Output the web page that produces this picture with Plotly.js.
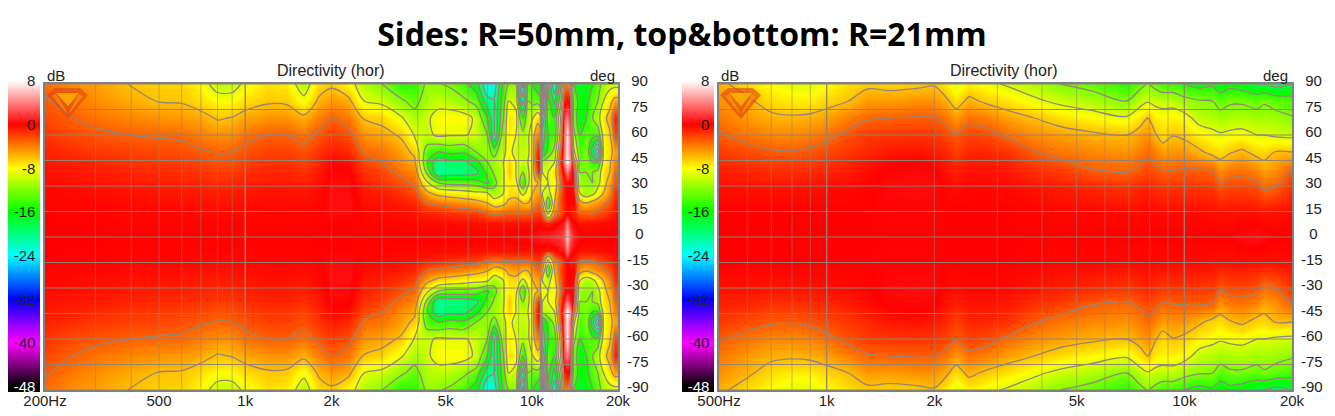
<!DOCTYPE html>
<html><head><meta charset="utf-8">
<script src="https://cdn.plot.ly/plotly-3.0.1.min.js"></script>
<style>html,body{margin:0;padding:0;background:#fff}#c{width:1335px;height:416px}</style>
</head><body><div id="c"></div>
<script>
const titleText = "Sides: R=50mm, top&bottom: R=21mm";
const scaleDb = [-49.7,-49.01,-49,-48,-44,-40,-32,-24,-16,-8,0,8,9.8];
const scaleColors = ["#ffffff","#ffffff","#000000","#000000","#800080","#ff00ff","#0000ff","#00ffff","#00ff00","#ffff00","#ff0000","#ffffff","#ffffff"];
const cbarTicks = [8,0,-8,-16,-24,-32,-40,-48];
const cbarText = ["8\u00a0","0\u00a0","-8\u00a0","-16\u00a0","-24\u00a0","-32\u00a0","-40\u00a0","<span style=\"color:#fff\">-48</span>\u00a0"];
const degTicks = [90,75,60,45,30,15,0,-15,-30,-45,-60,-75,-90];

const leftAngles = [0,8,14,20,26,32,38,44,50,60,70,80,90];
const leftFreqs = [200,250,300,400,500,600,700,800,900,1000,1200,1400,1600,1800,2000,2300,2600,3000,3500,3900,4300,4700,5200,5800,6400,7000,7400,7900,8300,8800,9300,9700,10100,10300,10500,10700,10900,11400,12000,12600,13000,13300,13600,14000,14700,15500,16300,17000,17800,18700,19500,20000];
const leftColumns = [
[0,0,0,-.1,-.2,-.3,-.5,-.7,-1,-1.6,-2.2,-2.8,-3.4],
[0,0,-.1,-.2,-.3,-.5,-.7,-1,-1.4,-2.3,-3,-3.8,-4.5],
[0,0,-.1,-.2,-.4,-.6,-.8,-1.2,-1.7,-2.6,-3.6,-4.4,-5],
[0,-.1,-.2,-.3,-.5,-.8,-1.1,-1.6,-2,-3,-4.2,-5.4,-6.1],
[0,-.1,-.2,-.4,-.6,-.9,-1.3,-1.8,-2.2,-3.2,-4.6,-6.1,-6.6],
[0,-.1,-.2,-.4,-.7,-1,-1.4,-1.9,-2.4,-3.3,-4.8,-6.2,-6.7],
[0,-.1,-.3,-.5,-.8,-1.1,-1.6,-2.2,-2.8,-4,-5.3,-7,-8],
[0,-.1,-.3,-.6,-.9,-1.3,-1.9,-2.6,-3.1,-4.5,-6.2,-8,-10],
[0,-.1,-.3,-.5,-.8,-1.2,-1.8,-2.5,-3,-4.4,-5.9,-8,-10],
[0,-.1,-.2,-.4,-.7,-1,-1.4,-2,-2.5,-3.6,-5.2,-7,-8.5],
[0,-.1,-.2,-.3,-.5,-.8,-1.1,-1.6,-2,-3,-4.6,-6.3,-7],
[0,-.1,-.2,-.3,-.5,-.8,-1.1,-1.6,-2,-3,-4.6,-6.4,-7.5],
[0,-.1,-.2,-.4,-.6,-1,-1.4,-2,-2.5,-3.6,-5.5,-8.3,-10.5],
[0,0,-.1,-.2,-.3,-.5,-.8,-1.2,-1.6,-2.7,-4,-5.7,-7],
[0,0,.3,.4,.4,.3,.2,-.2,-.8,-1.8,-3,-4.8,-6.4],
[0,0,.3,.4,.4,.3,.1,-.4,-1.2,-2.5,-3.8,-5.5,-8],
[0,-.1,-.2,-.4,-.7,-1,-1.5,-2.2,-3.3,-4.6,-6.2,-9,-10.5],
[0,-.1,-.3,-.5,-.9,-1.5,-2.1,-3,-3.6,-5.2,-6.7,-9.6,-12],
[0,-.2,-.4,-.8,-1.5,-2.5,-3.5,-4.4,-5,-6.3,-8.7,-11.5,-15],
[0,-.2,-.6,-1.2,-2.3,-3.3,-4.3,-5.5,-6.5,-9.2,-10.8,-13,-14.5],
[0,-.3,-1,-3,-5.5,-8.5,-12.5,-14.5,-13.5,-9.8,-9.5,-10.5,-11.5],
[0,-.3,-1.2,-3.5,-7,-12,-21,-20.5,-15,-8.5,-8,-10,-11.8],
[0,-.3,-1.5,-4,-7.5,-13,-20,-19,-14,-8.8,-7.8,-10.3,-12.5],
[0,-.4,-1.8,-4.5,-8,-13,-20,-19,-14.5,-8.8,-8,-11.5,-14],
[0,-.4,-2,-5,-8.5,-13.5,-19,-16,-12,-9.5,-9.5,-13,-17],
[0,-.5,-3,-6,-9,-15.5,-14,-12,-11,-12,-15,-20,-24],
[0,-.5,-3.5,-7.5,-11,-13,-11.5,-11,-13,-21,-21,-21,-23],
[0,-.5,-3.2,-7,-9.5,-9.5,-10,-9.5,-10,-11,-13,-14,-15],
[.2,-.5,-3,-5.5,-7,-7.5,-6,-6.5,-8,-7.5,-7,-9,-12],
[.3,-.5,-3,-5,-7,-8,-9,-9,-10,-9,-8,-10,-12],
[.3,-.5,-3,-6,-10,-15,-12,-10,-10,-11,-15,-23,-28],
[.4,-.5,-3,-6,-8,-9.5,-9.5,-9,-9.5,-9.5,-10,-12,-14],
[.5,-.5,-2.5,-4.5,-6,-7,-7,-7,-7,-7,-9,-13,-15],
[.6,-.4,-2.2,-4,-5.5,-6.5,-4,-2.5,-3,-5,-8,-13,-16],
[.7,-.3,-2,-3.5,-5,-6,-1.5,-.5,-1,-4,-7,-13,-17],
[.8,-.3,-2,-3.5,-5,-5.5,-1.5,-.5,-1.5,-4.5,-8,-14,-18],
[1,-.5,-3,-6,-9,-8.5,-9,-11,-18,-20,-24,-28,-30],
[1.2,-1,-10,-15,-10,-9,-9,-10,-14,-15,-13,-14,-15],
[1.5,-.5,-4,-6,-7,-8,-7,-9,-11,-14,-15,-19,-24],
[2,.5,-2.5,-2,-2.5,-3,-2,-1,-2,-5,-6,-10,-13],
[3,1,-1,-1,-1,-1,1,4,3.5,3,2,-1,-4],
[6.5,4,0,0,0,.5,4,8,7,7.5,4,0,-4],
[3,1,-1,0,0,0,1.5,5,3.5,3,1.5,-.5,-5],
[1,0,-1,0,-.5,-.5,-1,-4,-8,-11,-13,-13,-15],
[.2,-.5,-3,-5,-9,-11,-12,-13,-14,-15,-17,-16,-18],
[0,-.5,-3,-6,-11,-11.5,-12,-12,-12,-13,-15,-16,-16],
[0,-.5,-3,-5,-10,-12,-12,-15,-20,-14,-12,-13,-15],
[0,-.4,-2.5,-4.5,-8,-10,-11,-15,-27,-14,-10,-12,-13],
[0,-.3,-2,-3.5,-6,-7,-7,-8,-8,-8,-7,-9,-11],
[0,-.2,-1.5,-2.5,-4,-5,-6,-6.5,-7,-6.5,-5,-7,-10],
[0,-.1,-.5,-1,-1.5,-2.5,-3,-4,-5,-2,-1,-5,-10],
[0,-.1,-.5,-1,-1.5,-2.5,-3,-4,-5,-2.5,-1.5,-5,-10]
];

const rightAngles = [0,15,30,40,50,60,70,80,90];
const rightFreqs = [500,600,700,800,900,1000,1150,1300,1500,1800,2000,2150,2300,2500,2800,3200,3800,4500,5500,6900,7500,7900,8300,8700,9300,10000,11000,12000,12600,13400,14500,16000,16700,18000,20000];
const rightColumns = [
[0,0,-.5,-1,-1.8,-2.8,-3.7,-4.5,-5.5],
[0,0,-.5,-1.2,-2.3,-3.7,-4.8,-5.6,-7],
[0,0,-.6,-1.5,-2.8,-4.2,-5.5,-7,-8],
[0,0,-.6,-1.5,-2.9,-4.3,-5.7,-7.5,-8.9],
[0,0,-.5,-1.4,-2.6,-4.1,-5.5,-7.5,-9],
[0,0,-.4,-1.2,-2.2,-3.5,-5,-6.8,-8],
[0,0,-.3,-.9,-1.7,-2.5,-4,-6,-7],
[0,0,-.1,-.4,-1.2,-1.8,-3.2,-4.8,-6.5],
[0,.1,.3,.1,-.7,-1.7,-3,-4.9,-6.7],
[0,.1,.4,.2,-.5,-1.6,-2.9,-4.5,-6.5],
[0,.1,.3,.1,-.8,-1.7,-2.9,-4.6,-6.2],
[0,0,-.2,-.6,-1.2,-2.1,-3.6,-5.5,-7.5],
[0,0,-.4,-1,-2,-2.8,-4.8,-7,-9],
[0,0,-.2,-.6,-1.1,-2,-3.5,-5.5,-7.5],
[0,0,-.2,-.6,-1.2,-2.3,-4,-6.4,-8.5],
[0,0,-.3,-.8,-1.5,-3.3,-5,-7.2,-9.3],
[0,-.1,-.6,-1.5,-2.9,-4.4,-6,-8.5,-10.5],
[0,-.2,-.9,-2,-3.7,-5,-7,-9.6,-12],
[0,-.2,-1.2,-3,-4.2,-5.6,-7.8,-10.5,-13],
[0,-.3,-1.7,-3.3,-4.6,-6,-8.7,-12,-15],
[0,-.3,-1.3,-2.8,-3.9,-5,-7.2,-10,-13],
[0,-.2,-1,-2.3,-3.3,-4.6,-6,-9.2,-11.8],
[0,-.3,-1.4,-2.7,-4,-5.8,-7.5,-9.7,-13],
[0,-.3,-1.7,-3.2,-5,-6.9,-7.8,-10,-14],
[0,-.3,-1.6,-3.1,-4.6,-6.1,-7.6,-10,-14],
[0,-.3,-1.6,-3,-4.7,-6.5,-8.1,-11,-15],
[0,-.3,-1.7,-3,-5.6,-7.7,-9.9,-11.8,-16],
[0,-.4,-1.8,-3.2,-6.7,-8.3,-10.4,-12,-15.5],
[0,-.5,-2.7,-4.7,-7,-8.7,-10.9,-13.2,-17],
[0,-.5,-2.2,-3.9,-6.2,-8.4,-10.6,-12.4,-16],
[.3,-.4,-2.2,-3.7,-5.6,-8.2,-10.4,-12.4,-16.5],
[.5,-.5,-2.5,-4.4,-6.7,-9,-10.9,-13,-18],
[.3,-.6,-3.5,-5.2,-6.8,-9,-10.8,-12.3,-18],
[0,-.5,-3,-4.6,-5.9,-9.4,-11,-13.2,-19],
[0,-.3,-1.6,-3,-6,-9.6,-11.7,-13.8,-18]
];

const leftGridFreqs = [300,400,500,600,700,800,900,1000,2000,3000,4000,5000,6000,7000,8000,9000,10000];
const rightGridFreqs = [600,700,800,900,1000,2000,3000,4000,5000,6000,7000,8000,9000,10000];
const leftTickFreqs = [200,500,1000,2000,5000,10000,20000];
const leftTickText = ["200Hz","500","1k","2k","5k","10k","20k"];
const rightTickFreqs = [500,1000,2000,5000,10000,20000];
const rightTickText = ["500Hz","1k","2k","5k","10k","20k"];

const W = 1335, H = 416;
const px = v => v / W, py = v => 1 - v / H;
const zLo = scaleDb[0], zHi = scaleDb[scaleDb.length - 1];
const scale = scaleDb.map((d, i) => [(d - zLo) / (zHi - zLo), scaleColors[i]]);
const pxPerDb = 5.456;
const barTop = 81 - (zHi - 8) * pxPerDb;
const barLen = (zHi - zLo) * pxPerDb;

function mirror(angles, columns) {
  const ys = [], rows = [];
  for (let i = angles.length - 1; i > 0; i--) { ys.push(-angles[i]); rows.push(columns.map(c => c[i])); }
  for (let i = 0; i < angles.length; i++) { ys.push(angles[i]); rows.push(columns.map(c => c[i])); }
  return { ys, rows };
}
const pad = t => { const s = String(t); return s[0] === '-' ? s : (s.length === 1 ? '\u00a0\u00a0' + s : '\u00a0' + s); };

function panel(freqs, angles, columns, gridFreqs, xa, ya, cbLeft) {
  const m = mirror(angles, columns);
  const fmin = freqs[0], fmax = freqs[freqs.length - 1];
  const hx = [], hy = [];
  degTicks.forEach(d => { hx.push(fmin, fmax, null); hy.push(d, d, null); });
  const vx = [], vy = [], bx = [], by = [];
  gridFreqs.forEach(f => {
    const major = f === 1000 || f === 10000;
    (major ? bx : vx).push(f, f, null); (major ? by : vy).push(-90, 90, null);
  });
  const line = (x, y, color, width) => ({ type: 'scatter', mode: 'lines', x, y, xaxis: xa, yaxis: ya, line: { color, width }, hoverinfo: 'skip', showlegend: false });
  return [
    { type: 'heatmap', x: freqs, y: m.ys, z: m.rows, xaxis: xa, yaxis: ya, zsmooth: 'best', zmin: zLo, zmax: zHi, colorscale: scale, hoverinfo: 'skip',
      colorbar: { x: px(cbLeft), xanchor: 'left', xpad: 0, ypad: 0, y: py(barTop), yanchor: 'top', len: barLen / H, lenmode: 'fraction', thickness: 32, thicknessmode: 'pixels', outlinewidth: 0, borderwidth: 0, tickmode: 'array', tickvals: cbarTicks, ticktext: cbarText, ticks: '', ticklabelposition: 'inside', tickfont: { family: 'Liberation Sans', size: 15, color: '#222' } } },
    line(vx, vy, 'rgba(150,130,115,0.55)', 1),
    line(hx, hy, 'rgba(150,130,115,0.95)', 1.2),
    line(bx, by, 'rgba(150,130,115,0.95)', 1.4),
    { type: 'contour', x: freqs, y: m.ys, z: m.rows, xaxis: xa, yaxis: ya, showscale: false, hoverinfo: 'skip', autocontour: false,
      contours: { coloring: 'none', start: -30, end: -3, size: 3 }, line: { color: '#96857a', width: 1.3, smoothing: 0.9 } }
  ];
}

const data = [
  ...panel(leftFreqs, leftAngles, leftColumns, leftGridFreqs, 'x', 'y', 8),
  ...panel(rightFreqs, rightAngles, rightColumns, rightGridFreqs, 'x2', 'y2', 682)
];

const tickFont = { family: 'Liberation Sans', size: 15, color: '#222' };
const xAxis = (dom, a, b, vals, text, anchor) => ({ domain: [px(dom[0]), px(dom[1])], type: 'log', range: [Math.log10(a), Math.log10(b)], anchor, showgrid: false, zeroline: false, showline: true, mirror: true, linecolor: '#808080', linewidth: 2, tickmode: 'array', tickvals: vals, ticktext: text, ticks: '', ticklabelstandoff: -4, tickfont: tickFont, tickangle: 0 });
const yAxis = (anchor) => ({ domain: [py(390), py(84)], range: [-90, 90], anchor, side: 'right', showgrid: false, zeroline: false, showline: true, mirror: true, linecolor: '#808080', linewidth: 2, tickmode: 'array', tickvals: degTicks, ticktext: degTicks.map(pad), ticks: 'outside', ticklen: 4, tickcolor: 'rgba(0,0,0,0)', ticklabelshift: -3, tickfont: tickFont });

const note = (t, x, y, size) => ({ text: t, x: px(x), y: py(y), xref: 'paper', yref: 'paper', xanchor: 'center', yanchor: 'middle', showarrow: false, font: { family: 'Liberation Sans', size, color: '#222' } });

function logo(x0) {
  const mk = (pts, fill) => ({ type: 'path', xref: 'paper', yref: 'paper', path: 'M' + pts.map(p => px(x0 + p[0]) + ',' + py(p[1])).join('L') + 'Z', fillcolor: fill, line: { width: 0 }, layer: 'above' });
  return [
    mk([[0,95],[8,88],[33,88],[41,95],[21,119]], 'rgba(225,70,20,0.65)'),
    mk([[9,93],[32,93],[21,106]], 'rgba(255,190,0,0.75)'),
    mk([[5,96],[9,94],[19,110],[20,114]], 'rgba(255,170,0,0.55)'),
    mk([[36,96],[32,94],[23,110],[22,114]], 'rgba(255,170,0,0.55)')
  ];
}

const layout = {
  width: W, height: H, margin: { l: 0, r: 0, t: 0, b: 0 }, paper_bgcolor: '#fff', plot_bgcolor: '#fff', showlegend: false,
  title: { text: titleText, x: 682 / W, xanchor: 'center', y: py(35), yanchor: 'middle', font: { family: 'Open Sans', size: 32, color: '#000', weight: 700 } },
  xaxis: xAxis([45, 618], 200, 20000, leftTickFreqs, leftTickText, 'y'),
  yaxis: yAxis('x'),
  xaxis2: xAxis([719, 1292], 500, 20000, rightTickFreqs, rightTickText, 'y2'),
  yaxis2: yAxis('x2'),
  annotations: [
    note('Directivity (hor)', 331, 70, 16), note('dB', 56, 75, 15), note('deg', 602, 75, 15),
    note('Directivity (hor)', 1004, 70, 16), note('dB', 730, 75, 15), note('deg', 1275, 75, 15)
  ],
  shapes: [...logo(47), ...logo(720)]
};
Plotly.newPlot('c', data, layout, { displayModeBar: false, staticPlot: true });
</script></body></html>
